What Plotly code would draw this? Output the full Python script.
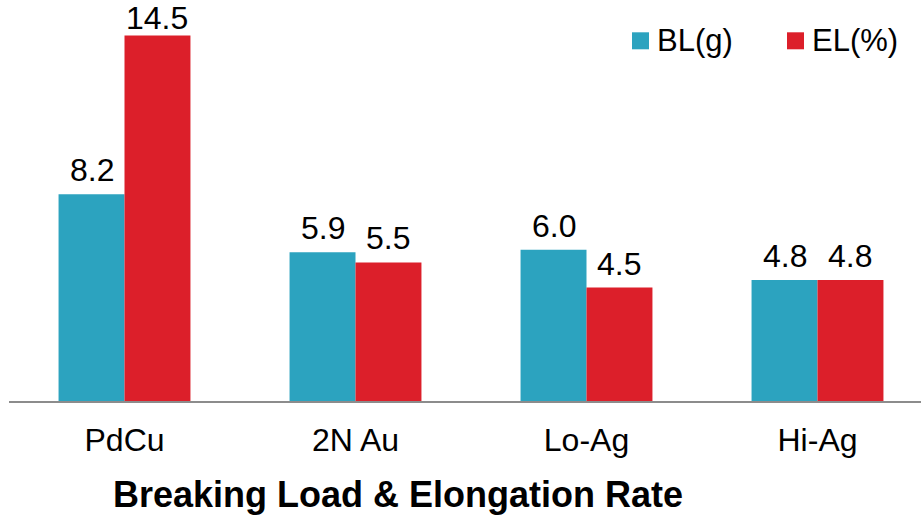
import plotly.graph_objects as go

# Wire types and their measured properties
categories = ["PdCu", "2N Au", "Lo-Ag", "Hi-Ag"]
breaking_load = [8.2, 5.9, 6.0, 4.8]   # BL(g)
elongation = [14.5, 5.5, 4.5, 4.8]     # EL(%)
series_names = ["BL(g)", "EL(%)"]
series_colors = ["#2CA3BF", "#DC1F2A"]

W, H = 921, 517
ML, MR, MT, MB = 9, 0, 0, 116
PW, PH = W - ML - MR, H - MT - MB
FONT = "Liberation Sans, Arial, sans-serif"
BARGAP = 0.429
PX_PER_UNIT = 25.2
Y_MAX = PH / PX_PER_UNIT
LABEL_SIZE = 32

fig = go.Figure()
for name, vals, col in zip(series_names, [breaking_load, elongation], series_colors):
    fig.add_trace(go.Bar(
        name=name, x=categories, y=vals, marker_color=col, marker_line_width=0,
        showlegend=False,
    ))

# Value labels above each bar; a label that would run off the top sits closer to its bar
half_slot = (1 - BARGAP) / 4
for k, vals in enumerate([breaking_load, elongation]):
    side = -1 if k == 0 else 1
    for i, v in enumerate(vals):
        room = (Y_MAX - v) * PX_PER_UNIT - 38
        fig.add_annotation(
            x=i + side * half_slot, y=v, yanchor="bottom", xanchor="center",
            yshift=min(4, room), showarrow=False, text=f"{v:.1f}",
            font=dict(family=FONT, size=LABEL_SIZE, color="#000000"),
        )

# Hand-placed legend in the upper right
def px_x(p):
    return (p - ML) / PW

def px_y(p):
    return (MT + PH - p) / PH

legend_items = [(632, series_names[0], series_colors[0]), (787, series_names[1], series_colors[1])]
for x0, label, col in legend_items:
    fig.add_shape(type="rect", xref="paper", yref="paper",
                  x0=px_x(x0), x1=px_x(x0 + 17), y0=px_y(49.3), y1=px_y(32.3),
                  fillcolor=col, line_width=0)
    fig.add_annotation(xref="paper", yref="paper", x=px_x(x0 + 23), y=px_y(40),
                       xanchor="left", yanchor="middle", showarrow=False, text=label,
                       font=dict(family=FONT, size=31, color="#000000"))

fig.update_layout(
    width=W, height=H, barmode="group", bargap=BARGAP, bargroupgap=0,
    margin=dict(l=ML, r=MR, t=MT, b=MB),
    paper_bgcolor="white", plot_bgcolor="white",
    title=dict(text="<b>Breaking Load & Elongation Rate</b>", x=398 / W, xanchor="center",
               xref="container", yref="container", y=1 - 494 / H, yanchor="middle",
               font=dict(family=FONT, size=36, color="#000000")),
    xaxis=dict(range=[-0.5, -0.5 + PW / 231], showline=True, linecolor="#8C8C8C", linewidth=2,
               ticks="", tickfont=dict(family=FONT, size=32, color="#000000"),
               ticklabelstandoff=10, showgrid=False, zeroline=False),
    yaxis=dict(range=[0, Y_MAX], visible=False, showgrid=False, zeroline=False),
)

fig.write_html("out.html")
